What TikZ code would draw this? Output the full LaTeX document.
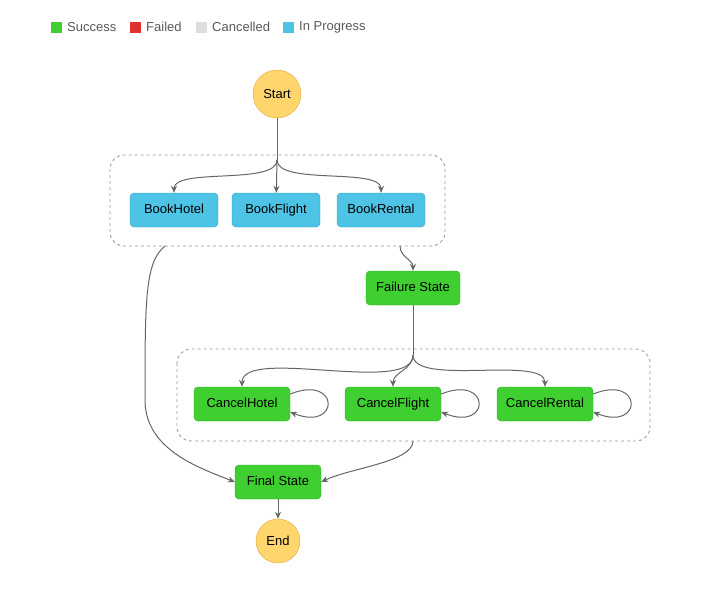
\documentclass[tikz,border=0pt]{standalone}
\usepackage{fontspec}
\setmainfont{Liberation Sans}
\usetikzlibrary{arrows.meta,positioning}
\definecolor{okgreen}{HTML}{3FCF30}
\definecolor{okgreenline}{HTML}{2FA824}
\definecolor{runblue}{HTML}{4DC3E6}
\definecolor{runblueline}{HTML}{3A9EC0}
\definecolor{failred}{HTML}{E03030}
\definecolor{cancgray}{HTML}{DDDDDD}
\definecolor{termyellow}{HTML}{FFD56E}
\definecolor{termline}{HTML}{E0A93A}
\definecolor{edgegray}{HTML}{666666}
\tikzset{
  state/.style={draw=okgreenline, fill=okgreen, rounded corners=4pt, minimum height=34pt, inner sep=0pt, text height=9.5pt, text depth=2.5pt, font=\fontsize{13}{15}\selectfont},
  running/.style={state, draw=runblueline, fill=runblue},
  term/.style={circle, draw=termline, fill=termyellow, inner sep=0pt, font=\fontsize{13}{15}\selectfont},
  group/.style={draw=gray!80, dashed, line width=0.9pt, rounded corners=14pt},
  flow/.style={draw=edgegray, line width=1pt, -{Stealth[length=7pt,width=6pt]}},
  key/.style={minimum size=11pt, inner sep=0pt},
  keytext/.style={right=2pt, font=\fontsize{13}{15}\selectfont, text=black!65}
}
\begin{document}
\begin{tikzpicture}[x=1pt, y=-1pt]
  \useasboundingbox (0,0) rectangle (722,598);
  % Legend
  \node[key, fill=okgreen] (k1) at (56,27) {};
  \node[keytext] at (k1.east) {Success};
  \node[key, fill=failred] (k2) at (135,27) {};
  \node[keytext] at (k2.east) {Failed};
  \node[key, fill=cancgray] (k3) at (201,27) {};
  \node[keytext] at (k3.east) {Cancelled};
  \node[key, fill=runblue] (k4) at (288,27) {};
  \node[keytext] at (k4.east) {In Progress};

  % Groups
  \draw[group] (110,155) rectangle (445,246);
  \draw[group] (177,349) rectangle (650,441);
  \coordinate (g1fork) at (277,160);
  \coordinate (g1out) at (400,246);
  \coordinate (g1left) at (165,246);
  \coordinate (g2fork) at (413,355);
  \coordinate (g2out) at (413,441);

  % Nodes
  \node[term, minimum size=48pt] (start) at (277,94) {Start};
  \node[running, minimum width=88pt] (hotel) at (174,210) {BookHotel};
  \node[running, minimum width=88pt] (flight) at (276,210) {BookFlight};
  \node[running, minimum width=88pt] (rental) at (381,210) {BookRental};
  \node[state, minimum width=94pt] (fail) at (413,288) {Failure State};
  \node[state, minimum width=96pt] (chotel) at (242,404) {CancelHotel};
  \node[state, minimum width=96pt] (cflight) at (393,404) {CancelFlight};
  \node[state, minimum width=96pt] (crental) at (545,404) {CancelRental};
  \node[state, minimum width=86pt] (final) at (278,482) {Final State};
  \node[term, minimum size=44pt] (end) at (278,541) {End};

  % Edges
  \draw[draw=edgegray, line width=1pt] (start) -- (g1fork);
  \draw[flow] (g1fork) to[out=-90, in=90, looseness=0.6] (hotel);
  \draw[flow] (g1fork) -- (flight);
  \draw[flow] (g1fork) to[out=-90, in=90, looseness=0.6] (rental);
  \draw[flow] (g1out) to[out=-90, in=90] (fail);
  \draw[draw=edgegray, line width=1pt] (fail) -- (g2fork);
  \draw[flow] (g2fork) to[out=-90, in=90, looseness=0.6] (chotel);
  \draw[flow] (g2fork) to[out=-90, in=90] (cflight);
  \draw[flow] (g2fork) to[out=-90, in=90, looseness=0.6] (crental);
  \foreach \n in {chotel,cflight,crental}
    \draw[flow] ([yshift=10pt]\n.east) .. controls +(50,-20) and +(50,20) .. ([yshift=-8pt]\n.east);
  \draw[flow] (g2out) .. controls (413,462) and (350,468) .. (final.east);
  \draw[flow] (g1left) .. controls (145,262) and (145,300) .. (145,400) .. controls (145,450) and (200,468) .. (final.west);
  \draw[flow] (final) -- (end);
\end{tikzpicture}
\end{document}
